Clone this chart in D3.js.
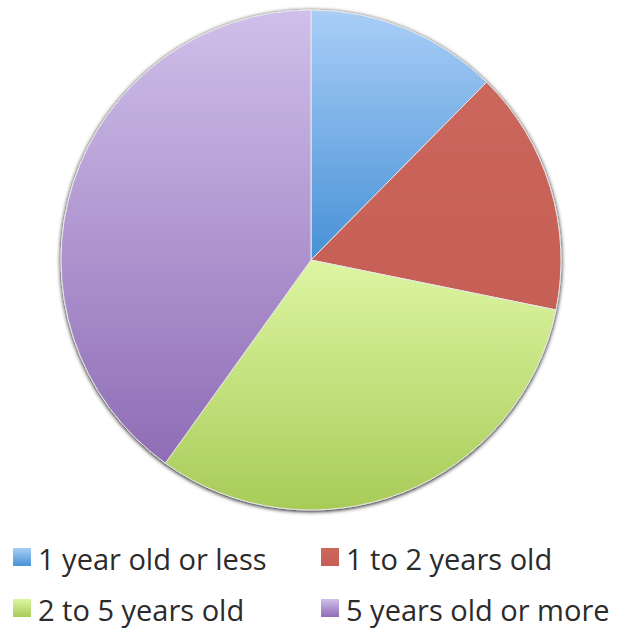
<!DOCTYPE html>
<html>
<head>
<meta charset="utf-8">
<script src="https://cdn.jsdelivr.net/npm/d3@7"></script>
<style>
  body { margin: 0; background: #fff; }
  text { font-family: "Open Sans", "Liberation Sans", sans-serif; }
</style>
</head>
<body>
<div id="chart"></div>
<script>
// data (shares in percent)
var categories = ["1 year old or less", "1 to 2 years old", "2 to 5 years old", "5 years old or more"];
var values = [12.4, 15.8, 31.7, 40.1];
var topColors = ["#a9cef7", "#cb675d", "#ddf6a2", "#d0bfea"];
var bottomColors = ["#4791d6", "#c65f55", "#a8cb58", "#8f6db6"];

var width = 621, height = 631;
var cx = 311, cy = 260, radius = 250;

var svg = d3.select("#chart")
    .append("svg")
    .attr("width", width)
    .attr("height", height);

var defs = svg.append("defs");

// soft shadow round the pie
var filter = defs.append("filter")
    .attr("id", "shadow")
    .attr("x", "-10%").attr("y", "-10%")
    .attr("width", "120%").attr("height", "120%");
filter.append("feGaussianBlur").attr("in", "SourceAlpha").attr("stdDeviation", 2);
filter.append("feOffset").attr("dx", 0).attr("dy", 1).attr("result", "blur");
var merge = filter.append("feMerge");
merge.append("feMergeNode").attr("in", "blur");
merge.append("feMergeNode").attr("in", "SourceGraphic");

var pie = d3.pie().sort(null).value(function (d) { return d; });
var arc = d3.arc().innerRadius(0).outerRadius(radius);
var arcs = pie(values);

// one vertical gradient per slice, spread over the slice's own height
arcs.forEach(function (a, i) {
    var ys = [0];
    var steps = 60;
    for (var k = 0; k <= steps; k++) {
        var t = a.startAngle + (a.endAngle - a.startAngle) * k / steps;
        ys.push(-Math.cos(t) * radius);
    }
    var g = defs.append("linearGradient")
        .attr("id", "grad" + i)
        .attr("gradientUnits", "userSpaceOnUse")
        .attr("x1", 0).attr("x2", 0)
        .attr("y1", d3.min(ys)).attr("y2", d3.max(ys));
    g.append("stop").attr("offset", "0%").attr("stop-color", topColors[i]);
    g.append("stop").attr("offset", "100%").attr("stop-color", bottomColors[i]);
});

var pieG = svg.append("g")
    .attr("transform", "translate(" + cx + "," + cy + ")")
    .attr("filter", "url(#shadow)");

pieG.selectAll("path")
    .data(arcs)
    .enter()
    .append("path")
    .attr("d", arc)
    .attr("fill", function (d, i) { return "url(#grad" + i + ")"; })
    .attr("stroke", "#e8e8e8")
    .attr("stroke-width", 1);

// legend gradients
categories.forEach(function (c, i) {
    var g = defs.append("linearGradient")
        .attr("id", "lg" + i)
        .attr("x1", 0).attr("x2", 0).attr("y1", 0).attr("y2", 1);
    g.append("stop").attr("offset", "0%").attr("stop-color", topColors[i]);
    g.append("stop").attr("offset", "100%").attr("stop-color", bottomColors[i]);
});

// legend, two columns
var legendX = [13, 321];
var legendY = [557, 608];

var legend = svg.selectAll(".legend")
    .data(categories)
    .enter()
    .append("g")
    .attr("class", "legend")
    .attr("transform", function (d, i) {
        return "translate(" + legendX[i % 2] + "," + legendY[Math.floor(i / 2)] + ")";
    });

legend.append("rect")
    .attr("x", 0)
    .attr("y", -9)
    .attr("width", 18)
    .attr("height", 18)
    .attr("fill", function (d, i) { return "url(#lg" + i + ")"; });

legend.append("text")
    .attr("x", 25)
    .attr("y", 13)
    .attr("font-size", 29)
    .attr("fill", "#2b2b2b")
    .text(function (d) { return d; });
</script>
</body>
</html>
